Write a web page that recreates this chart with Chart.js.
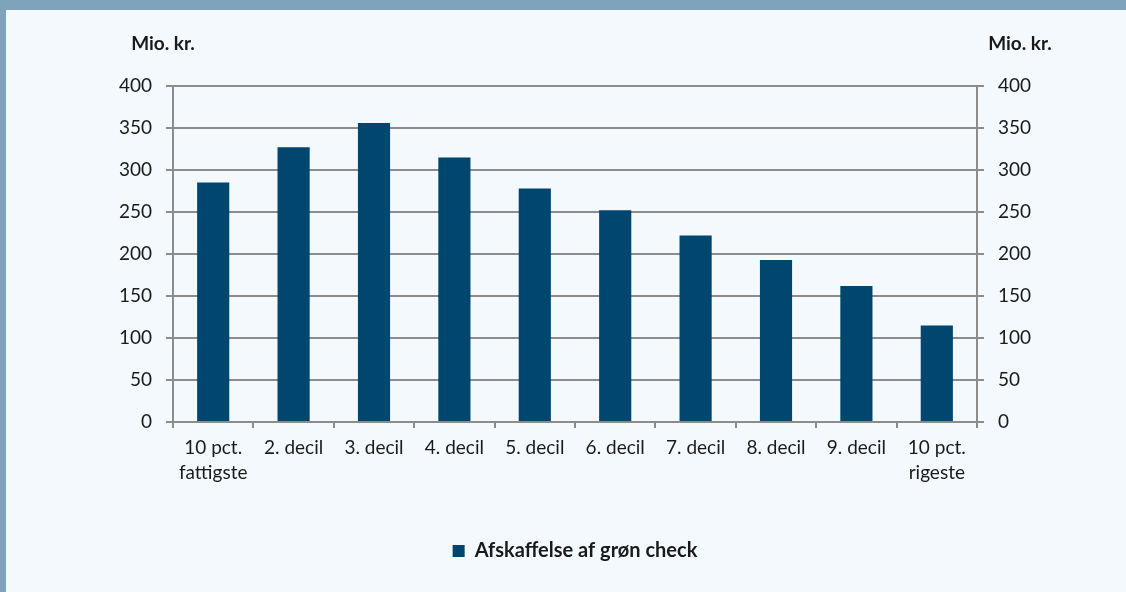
<!DOCTYPE html>
<html>
<head>
<meta charset="utf-8">
<script src="https://cdn.jsdelivr.net/npm/chart.js@4/dist/chart.umd.min.js"></script>
<style>
  html, body { margin: 0; padding: 0; background: #f4f9fd; }
  #wrap { position: relative; width: 1126px; height: 592px; overflow: hidden; }
  #header { position: absolute; left: 0; top: 0; width: 1126px; height: 10px; background: #7fa3ba; }
  #side { position: absolute; left: 0; top: 0; width: 6px; height: 592px; background: #7fa3ba; }
  #chart { position: absolute; left: 0; top: 0; }
</style>
</head>
<body>
<div id="wrap">
  <canvas id="chart" width="1126" height="592"></canvas>
  <div id="header"></div>
  <div id="side"></div>
</div>
<script>
// ── Data ───────────────────────────────────────────────────────
const categories = [
  ['10 pct.', 'fattigste'], '2. decil', '3. decil', '4. decil', '5. decil',
  '6. decil', '7. decil', '8. decil', '9. decil', ['10 pct.', 'rigeste'],
];
const seriesName = 'Afskaffelse af grøn check';
const values = [285, 327, 356, 315, 278, 252, 222, 193, 162, 115];
const yTicks = [0, 50, 100, 150, 200, 250, 300, 350, 400];
const unitLabel = 'Mio. kr.';

// ── Style ──────────────────────────────────────────────────────
const FONT = "Lato, 'Open Sans', sans-serif";
const TEXT = '#1a1a1a';
const GRID = '#8c8c8c';
const BAR = '#00466e';

Chart.defaults.font.family = FONT;
Chart.defaults.color = TEXT;

// Draw "Mio. kr." above both value axes
const unitTitles = {
  id: 'unitTitles',
  afterDraw(chart) {
    const c = chart.ctx;
    c.save();
    c.font = `bold 19px ${FONT}`;
    c.fillStyle = TEXT;
    c.textAlign = 'center';
    c.textBaseline = 'middle';
    c.fillText(unitLabel, 163, 44);
    c.fillText(unitLabel, 1020, 44);
    c.restore();
  },
};

const ctx = document.getElementById('chart').getContext('2d');
new Chart(ctx, {
  type: 'bar',
  data: {
    labels: categories,
    datasets: [{
      label: seriesName,
      data: values,
      backgroundColor: BAR,
      borderWidth: 0,
      barPercentage: 0.4,
      categoryPercentage: 1,
      yAxisID: 'y',
    }],
  },
  options: {
    responsive: false,
    animation: false,
    layout: { padding: { top: 86, bottom: 21, left: 0, right: 0 } },
    plugins: {
      legend: {
        position: 'bottom',
        fullSize: false,
        labels: {
          boxWidth: 12,
          boxHeight: 12,
          color: TEXT,
          padding: 10,
          font: { size: 20, weight: 'bold' },
        },
      },
      tooltip: { enabled: false },
    },
    scales: {
      x: {
        grid: { drawOnChartArea: false, drawTicks: true, tickLength: 6, color: GRID, lineWidth: 2 },
        border: { color: GRID, width: 2 },
        ticks: { color: TEXT, font: { size: 19, lineHeight: 1.3 }, padding: 8, maxRotation: 0, autoSkip: false },
        afterFit(scale) { scale.height = 109; },
      },
      y: {
        position: 'left',
        min: 0,
        max: 400,
        afterBuildTicks(scale) { scale.ticks = yTicks.map((v) => ({ value: v })); },
        grid: { color: GRID, lineWidth: 2, tickLength: 7 },
        border: { color: GRID, width: 2 },
        ticks: { color: TEXT, font: { size: 19 }, padding: 14 },
        afterFit(scale) { scale.width = 173; },
      },
      y2: {
        position: 'right',
        min: 0,
        max: 400,
        afterBuildTicks(scale) { scale.ticks = yTicks.map((v) => ({ value: v })); },
        grid: { drawOnChartArea: false, color: GRID, lineWidth: 2, tickLength: 7 },
        border: { color: GRID, width: 2 },
        ticks: { color: TEXT, font: { size: 19 }, padding: 14 },
        afterFit(scale) { scale.width = 149; },
      },
    },
  },
  plugins: [unitTitles],
});
</script>
</body>
</html>
